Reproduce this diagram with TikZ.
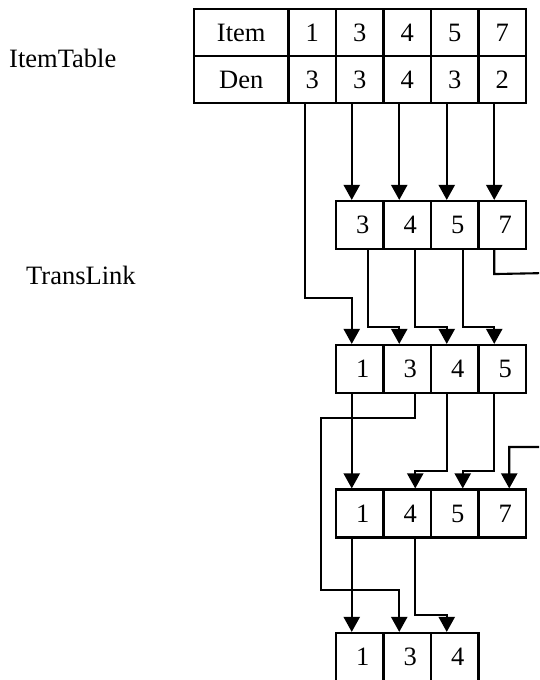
\documentclass[tikz,border=0pt]{standalone}
\usepackage{fontspec}
\setmainfont{Liberation Serif}
\usetikzlibrary{arrows.meta}
\begin{document}
\begin{tikzpicture}[x=1pt,y=-1pt,
  every node/.style={font=\fontsize{26.5}{30}\selectfont},
  cell/.style={draw, line width=2.1pt, inner sep=0pt,
               minimum width=47.5pt, minimum height=48pt},
  linkcell/.style={cell, execute at begin node=\hspace*{6pt}},
  head/.style={cell, minimum width=94.5pt, minimum height=47pt},
  row/.style={cell, minimum height=47pt},
  link/.style={line width=2.1pt},
  arr/.style={link, -{Triangle[width=16pt,length=15pt]}}]
\useasboundingbox (0,0) rectangle (539,680);
\clip (0,0) rectangle (539,680);

% side labels
\node[anchor=base west, inner sep=0pt] (lblitem) at (9,67) {ItemTable};
\node[anchor=base west, inner sep=0pt] (lbltrans) at (26,284) {TransLink};

% item table
\node[head] (itm) at (241.25,32.5) {Item};
\node[head] (den) at (241.25,79.5) {Den};
\node[row] (i1) at (312.25,32.5) {1};
\node[row] (i3) at (359.75,32.5) {3};
\node[row] (i4) at (407.25,32.5) {4};
\node[row] (i5) at (454.75,32.5) {5};
\node[row] (i7) at (502.25,32.5) {7};
\node[row] (d1) at (312.25,79.5) {3};
\node[row] (d3) at (359.75,79.5) {3};
\node[row] (d4) at (407.25,79.5) {4};
\node[row] (d5) at (454.75,79.5) {3};
\node[row] (d7) at (502.25,79.5) {2};

% transaction links
\node[linkcell] (b3) at (359.75,225) {3};
\node[linkcell] (b4) at (407.25,225) {4};
\node[linkcell] (b5) at (454.75,225) {5};
\node[linkcell] (b7) at (502.25,225) {7};

\node[linkcell] (c1) at (359.75,369) {1};
\node[linkcell] (c3) at (407.25,369) {3};
\node[linkcell] (c4) at (454.75,369) {4};
\node[linkcell] (c5) at (502.25,369) {5};

\node[linkcell] (e1) at (359.75,513.5) {1};
\node[linkcell] (e4) at (407.25,513.5) {4};
\node[linkcell] (e5) at (454.75,513.5) {5};
\node[linkcell] (e7) at (502.25,513.5) {7};

\node[linkcell] (g1) at (359.75,657) {1};
\node[linkcell] (g3) at (407.25,657) {3};
\node[linkcell] (g4) at (454.75,657) {4};

% item table to first links
\draw[arr] ([xshift=-8pt]d3.south) -- ([xshift=-8pt]b3.north);
\draw[arr] ([xshift=-8pt]d4.south) -- ([xshift=-8pt]b4.north);
\draw[arr] ([xshift=-8pt]d5.south) -- ([xshift=-8pt]b5.north);
\draw[arr] ([xshift=-8pt]d7.south) -- ([xshift=-8pt]b7.north);
\draw[arr] ([xshift=-7.5pt]d1.south) -- ++(0,194) -| ([xshift=-8pt]c1.north);

% second row of links
\draw[arr] ([xshift=8pt]b3.south) -- ++(0,77) -| ([xshift=-8pt]c3.north);
\draw[arr] ([xshift=8pt]b4.south) -- ++(0,77) -| ([xshift=-8pt]c4.north);
\draw[arr] ([xshift=8pt]b5.south) -- ++(0,77) -| ([xshift=-8pt]c5.north);
\draw[arr] ([xshift=-8pt]b7.south) -- ++(0,24) -- (548,273) -- (548,447)
           -| ([xshift=7pt]e7.north);

% third row of links
\draw[arr] ([xshift=-8pt]c1.south) -- ([xshift=-8pt]e1.north);
\draw[arr] ([xshift=8pt]c3.south) -- ++(0,24) -| (321,590)
           -| ([xshift=-8pt]g3.north);
\draw[arr] ([xshift=-8pt]c4.south) -- ++(0,77) -| ([xshift=8pt]e4.north);
\draw[arr] ([xshift=-8pt]c5.south) -- ++(0,77) -| ([xshift=8pt]e5.north);

% fourth row of links
\draw[arr] ([xshift=-8pt]e1.south) -- ([xshift=-8pt]g1.north);
\draw[arr] ([xshift=8pt]e4.south) -- ++(0,76) -| ([xshift=-8pt]g4.north);
\end{tikzpicture}
\end{document}
